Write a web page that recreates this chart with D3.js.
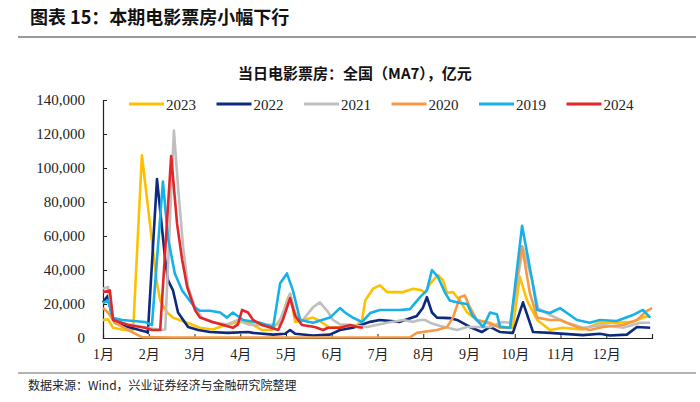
<!DOCTYPE html>
<html>
<head>
<meta charset="utf-8">
<script src="https://cdn.jsdelivr.net/npm/d3@7"></script>
<style>
  body { margin: 0; background: #fff; }
  svg { display: block; }
</style>
</head>
<body>
<script>
// values, x = month position (0 = 1月1日), y = 当日票房
const months = ['1月','2月','3月','4月','5月','6月','7月','8月','9月','10月','11月','12月'];
const yTicks = [0, 20000, 40000, 60000, 80000, 100000, 120000, 140000];
const seriesNames = ['2023', '2022', '2021', '2020', '2019', '2024'];
const seriesColors = ['#FFC000', '#0D2A7C', '#BFBFBF', '#F79A46', '#16B0EA', '#E3262A'];

const s2023 = [[0,10500],[0.11,11000],[0.22,6000],[0.42,5000],[0.6,4500],[0.66,5000],[0.85,107500],[1.18,32000],[1.25,22000],[1.40,15000],[1.53,12000],[1.84,9000],[2.12,6000],[2.40,5000],[2.71,8000],[2.99,9500],[3.17,9400],[3.48,4700],[3.69,4700],[3.91,12000],[4.02,22000],[4.09,26000],[4.20,9400],[4.59,12000],[4.74,10000],[4.96,6000],[5.18,6500],[5.55,7600],[5.66,10000],[5.73,22000],[5.90,29000],[6.05,31000],[6.21,27000],[6.56,27000],[6.78,29000],[6.97,28000],[7.04,26500],[7.15,32000],[7.32,37000],[7.43,34000],[7.52,26500],[7.65,27000],[7.80,22000],[7.96,15000],[8.17,10600],[8.46,9000],[8.68,6000],[8.96,6000],[9.11,36000],[9.27,22000],[9.49,10600],[9.77,4700],[10.05,6000],[10.49,5000],[10.86,9000],[11.23,9000],[11.58,9500],[11.80,12000],[11.96,13000]];
const s2022 = [[0,21000],[0.11,25000],[0.20,12000],[0.26,9000],[0.55,6500],[0.96,3500],[0.98,3000],[1.18,93500],[1.36,46000],[1.42,34000],[1.53,28000],[1.64,15000],[1.86,6500],[2.08,4700],[2.34,3500],[2.73,3000],[3.17,3500],[3.28,3000],[3.72,2000],[3.98,2500],[4.09,4700],[4.20,2500],[4.59,1500],[4.96,2000],[5.18,4700],[5.46,6000],[5.84,9500],[6.05,10600],[6.49,9500],[6.86,13000],[6.99,17600],[7.08,24000],[7.19,15000],[7.30,12000],[7.58,11700],[7.74,10600],[8.02,6500],[8.28,3500],[8.46,6500],[8.68,3500],[8.96,3000],[9.18,21000],[9.40,3500],[9.77,3000],[10.49,1700],[10.86,2500],[11.08,1500],[11.45,2000],[11.67,6500],[11.96,6000]];
const s2021 = [[0,29000],[0.11,30000],[0.22,10600],[0.55,8000],[0.96,6000],[1.29,4700],[1.36,5000],[1.55,122000],[1.64,89000],[1.75,54000],[1.86,30000],[2.01,18000],[2.16,12000],[2.40,9000],[2.71,8000],[2.95,10600],[3.17,8000],[3.48,7500],[3.83,8000],[3.98,18000],[4.09,26000],[4.20,15000],[4.35,10000],[4.59,18000],[4.74,21000],[4.90,16000],[5.03,10600],[5.18,8000],[5.40,7600],[5.77,6500],[6.21,9000],[6.56,10600],[6.78,9500],[6.93,10600],[7.04,10600],[7.19,8500],[7.37,7000],[7.74,4700],[7.96,6500],[8.46,6500],[8.74,9400],[8.90,9000],[9.18,53000],[9.38,34000],[9.51,17600],[9.77,13500],[10.14,9000],[10.49,6000],[10.93,7600],[11.37,6000],[11.74,9000],[11.96,9000]];
const s2020 = [[0,17600],[0.11,15000],[0.26,9000],[0.55,4700],[0.85,500],[1.5,300],[6.71,400],[6.86,3000],[7.30,4700],[7.52,6500],[7.65,12000],[7.80,24000],[7.91,25000],[8.02,18000],[8.17,10600],[8.39,9000],[8.61,7000],[8.90,6000],[9.07,40000],[9.16,54000],[9.33,26500],[9.49,12000],[9.77,10600],[9.99,10600],[10.36,6500],[10.64,4700],[10.93,6500],[11.37,7600],[11.67,10600],[11.89,16000],[12,17600]];
const s2019 = [[0,20600],[0.11,22000],[0.22,11700],[0.42,10600],[0.92,9400],[1.07,7600],[1.31,92000],[1.42,59000],[1.57,38000],[1.73,28000],[1.84,24000],[2.01,18000],[2.12,16000],[2.34,16000],[2.56,15000],[2.71,12000],[2.84,15000],[3.06,10600],[3.43,9000],[3.72,6500],[3.87,32000],[4.02,38000],[4.15,28000],[4.31,10600],[4.59,9000],[4.96,12000],[5.18,17600],[5.29,15000],[5.46,12000],[5.66,9400],[5.84,14700],[6.05,16500],[6.49,16500],[6.71,17000],[6.93,24000],[7.08,28000],[7.19,40000],[7.32,36000],[7.48,26500],[7.58,22000],[7.80,20600],[7.96,20000],[8.07,13500],[8.31,6500],[8.46,15000],[8.61,14000],[8.68,6500],[8.90,6000],[9.16,66000],[9.38,34000],[9.49,16500],[9.77,14700],[9.99,17600],[10.36,10600],[10.64,9000],[10.86,10600],[11.23,10000],[11.58,13500],[11.80,16500],[11.96,12000]];
const s2024 = [[0,27000],[0.15,28000],[0.22,10600],[0.55,7600],[0.92,6000],[1.07,4700],[1.25,4700],[1.49,107000],[1.62,67000],[1.73,46000],[1.84,30000],[2.01,16500],[2.12,12000],[2.40,9400],[2.84,6000],[2.95,8000],[3.04,16500],[3.17,15000],[3.28,10600],[3.48,7600],[3.83,4700],[3.93,10600],[4.09,23500],[4.20,13000],[4.35,7600],[4.63,6500],[4.81,4700],[4.92,6000],[5.18,6000],[5.40,7600],[5.55,6500],[5.68,6000]];
const seriesValues = [s2023, s2022, s2021, s2020, s2019, s2024];

const width = 700, height = 402;
const margin = {left: 103, right: 48, top: 100, bottom: 64};

const svg = d3.select('body').append('svg')
  .attr('width', width)
  .attr('height', height);

// header and footer
svg.append('text')
  .attr('x', 30).attr('y', 24)
  .style('font-family', '"Noto Sans CJK SC", sans-serif')
  .style('font-weight', 'bold')
  .style('font-size', '18px')
  .attr('fill', '#111')
  .text('图表 15：本期电影票房小幅下行');
svg.append('line')
  .attr('x1', 18).attr('x2', 696).attr('y1', 37).attr('y2', 37)
  .attr('stroke', '#333').attr('stroke-width', 1.2);

svg.append('text')
  .attr('x', 355).attr('y', 79)
  .attr('text-anchor', 'middle')
  .style('font-family', '"Noto Sans CJK SC", sans-serif')
  .style('font-weight', 'bold')
  .style('font-size', '15px')
  .attr('fill', '#111')
  .text('当日电影票房：全国（MA7），亿元');

svg.append('line')
  .attr('x1', 18).attr('x2', 696).attr('y1', 373).attr('y2', 373)
  .attr('stroke', '#666').attr('stroke-width', 1);
svg.append('text')
  .attr('x', 28).attr('y', 390)
  .style('font-family', '"Noto Sans CJK SC", sans-serif')
  .style('font-size', '12px')
  .attr('fill', '#222')
  .text('数据来源：Wind，兴业证券经济与金融研究院整理');

// scales
const x = d3.scaleLinear().domain([0, 12]).range([margin.left, width - margin.right]);
const y = d3.scaleLinear().domain([0, 140000]).range([height - margin.bottom, margin.top]);

const yAxis = svg.append('g')
  .attr('transform', `translate(${margin.left},0)`)
  .call(d3.axisRight(y).tickValues(yTicks).tickSize(4).tickFormat(d3.format(',')));
yAxis.selectAll('text')
  .attr('x', -18)
  .attr('text-anchor', 'end')
  .style('font-family', '"Liberation Serif", serif')
  .style('font-size', '15px')
  .attr('fill', '#222');

const xAxis = svg.append('g')
  .attr('transform', `translate(0,${height - margin.bottom})`)
  .call(d3.axisTop(x).tickValues(d3.range(0, 13)).tickSize(4).tickFormat(i => months[i] || ''));
xAxis.selectAll('text')
  .attr('y', 21)
  .style('font-family', '"Liberation Serif", "Noto Sans CJK SC", serif')
  .style('font-size', '14px')
  .attr('fill', '#222');

svg.selectAll('.domain').attr('stroke', '#222').attr('stroke-width', 1.2);
svg.selectAll('.tick line').attr('stroke', '#222');

// lines
const line = d3.line()
  .x(d => x(d[0]))
  .y(d => y(d[1]))
  .curve(d3.curveLinear);

svg.append('g').selectAll('path')
  .data(seriesValues)
  .join('path')
    .attr('d', line)
    .attr('fill', 'none')
    .attr('stroke', (d, i) => seriesColors[i])
    .attr('stroke-width', 2.6)
    .attr('stroke-linejoin', 'round');

// legend
const legend = svg.append('g').selectAll('g')
  .data(seriesNames)
  .join('g')
    .attr('transform', (d, i) => `translate(${129 + i * 87.5},104)`);
legend.append('line')
  .attr('x1', 0).attr('x2', 35).attr('y1', 0).attr('y2', 0)
  .attr('stroke', (d, i) => seriesColors[i])
  .attr('stroke-width', 3);
legend.append('text')
  .attr('x', 37).attr('y', 5.5)
  .style('font-family', '"Liberation Serif", serif')
  .style('font-size', '15px')
  .attr('fill', '#222')
  .text(d => d);
</script>
</body>
</html>
